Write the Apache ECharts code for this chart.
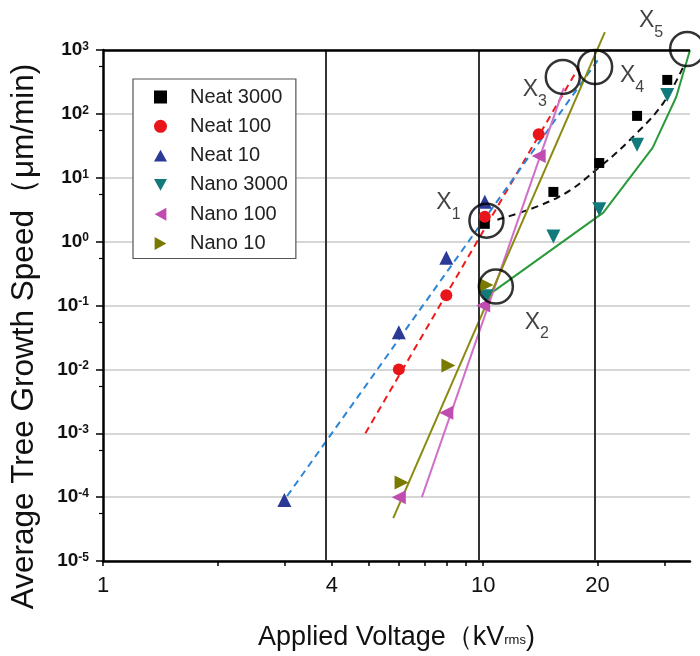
<!DOCTYPE html>
<html>
<head>
<meta charset="utf-8">
<script src="https://cdn.jsdelivr.net/npm/echarts@6/dist/echarts.min.js"></script>
<style>
html,body{margin:0;padding:0;background:#fff;}
#chart{width:700px;height:656px;}
</style>
</head>
<body>
<div id="chart"></div>
<script>
// measured points, x in kV, y in um/min
var seriesNames = ['Neat 3000', 'Neat 100', 'Neat 10', 'Nano 3000', 'Nano 100', 'Nano 10'];
var neat3000 = [[10.1, 1.9], [15.3, 6.0], [20.2, 17], [25.4, 93], [30.5, 340]];
var neat100 = [[6.0, 0.01], [8.0, 0.145], [10.1, 2.45], [14.0, 48]];
var neat10 = [[3.0, 9e-5], [6.0, 0.038], [8.0, 0.56], [10.1, 4.2]];
var nano3000 = [[10.2, 0.14], [15.3, 1.2], [20.2, 3.2], [25.4, 33], [30.5, 198]];
var nano100 = [[6.0, 1e-4], [8.0, 0.0021], [10.0, 0.1], [14.0, 22]];
var nano10 = [[6.1, 1.7e-4], [8.1, 0.0115], [10.2, 0.21]];

// fitted / guide lines
var neat3000Fit = [[10.9, 2.2], [15.7, 4.9], [20.3, 14.9], [25.4, 50.6], [29.8, 149], [33.6, 543]];
var neat100Fit = [[4.9, 0.001], [17.8, 525]];
var neat10Fit = [[3.05, 1.04e-4], [20.3, 780]];
var nano3000Fit = [[10.1, 0.133], [20.7, 2.84], [27.9, 29.4], [32.2, 184], [35.0, 1000]];
var nano100Fit = [[6.9, 1e-4], [16.3, 255]];
var nano10Fit = [[5.8, 4.7e-5], [20.9, 1900]];

// X1..X5 circles
var markNames = ['1', '2', '3', '4', '5'];
var markCenters = [[10.2, 2.13], [10.8, 0.198], [16.2, 379], [19.7, 542], [34.4, 1037]];
var markLabelOffsets = [[-38, -14], [41, 40], [-28, 17], [37, 13], [-36, -24]];

var voltageLines = [3.85, 9.75, 19.7];
var xTickValues = [1, 2, 3, 4, 5, 6, 7, 8, 9, 10, 20, 30];
var xLabelValues = [1, 4, 10, 20];

var font = 'Liberation Sans, Arial, sans-serif';
var dataSets = [neat3000, neat100, neat10, nano3000, nano100, nano10];
var colors = ['#000000', '#e8151b', '#2b3a96', '#127a7a', '#c04cb0', '#7a7a00'];
var symbols = [
  'rect',
  'circle',
  'path://M5,0L10,9L0,9Z',
  'path://M0,0L10,0L5,9Z',
  'path://M0,5L9,0L9,10Z',
  'path://M0,0L9,5L0,10Z'
];
var sizes = [10, 12, 14, 14, 14, 14];

var chart = echarts.init(document.getElementById('chart'));

var series = [];
seriesNames.forEach(function (name, i) {
  series.push({
    name: name,
    type: 'scatter',
    data: dataSets[i],
    symbol: symbols[i],
    symbolSize: sizes[i],
    itemStyle: { color: colors[i], opacity: 1 },
    z: 5
  });
});

function fitLine(data, color, dashed, smooth) {
  return {
    type: 'line',
    data: data,
    symbol: 'none',
    smooth: smooth ? 0.4 : false,
    clip: false,
    silent: true,
    lineStyle: { color: color, width: 2, type: dashed ? [7, 5] : 'solid' },
    z: 4
  };
}
series.push(fitLine(neat3000Fit, '#111111', true, true));
series.push(fitLine(neat100Fit, '#f01a1a', true));
series.push(fitLine(neat10Fit, '#2b85d6', true));
series.push(fitLine(nano3000Fit, '#2a9a3a', false));
series.push(fitLine(nano100Fit, '#d070c8', false));
series.push(fitLine(nano10Fit, '#8a8a10', false));

// grid frame lines
series.push({
  type: 'line',
  data: [],
  silent: true,
  markLine: {
    silent: true,
    symbol: 'none',
    label: { show: false },
    data: voltageLines.map(function (v) {
      return { xAxis: v, lineStyle: { color: '#333', width: 2, type: 'solid' } };
    }).concat([{ yAxis: 1000, lineStyle: { color: '#000', width: 2.5, type: 'solid' } }])
  },
  z: 3
});

series.push({
  type: 'scatter',
  silent: true,
  clip: false,
  symbol: 'circle',
  symbolSize: 34,
  itemStyle: { color: 'rgba(0,0,0,0)', borderColor: '#000', borderWidth: 2.5 },
  z: 6,
  data: markCenters.map(function (c, i) {
    return {
      value: c,
      label: {
        show: true,
        position: 'inside',
        offset: markLabelOffsets[i],
        formatter: '{x|X}{s|' + markNames[i] + '}',
        rich: {
          x: { fontFamily: font, fontSize: 23, color: '#111', padding: [0, 0, 8, 0] },
          s: { fontFamily: font, fontSize: 16, color: '#111', verticalAlign: 'bottom' }
        }
      }
    };
  })
});

chart.setOption({
  animation: false,
  backgroundColor: '#fff',
  grid: { left: 103, right: 10, top: 50, bottom: 94 },
  legend: {
    data: seriesNames,
    orient: 'vertical',
    left: 133,
    top: 79,
    width: 160,
    padding: [7, 8, 4, 21],
    itemWidth: 13,
    itemHeight: 13,
    itemGap: 7.3,
    borderColor: '#555',
    borderWidth: 1.2,
    backgroundColor: '#fff',
    textStyle: { fontFamily: font, fontSize: 20, color: '#222', lineHeight: 22, padding: [0, 0, 0, 18] }
  },
  xAxis: {
    type: 'log',
    logBase: 10,
    min: 1,
    max: 35,
    name: '{a|Applied Voltage（kV}{s|rms}{a|)}',
    nameLocation: 'middle',
    nameGap: 63,
    nameTextStyle: {
      rich: {
        a: { fontFamily: font, fontSize: 27, color: '#111' },
        s: { fontFamily: font, fontSize: 13, color: '#111', verticalAlign: 'bottom', padding: [0, 0, 4, 0] }
      }
    },
    axisLine: { lineStyle: { color: '#000', width: 2.5 } },
    axisTick: { customValues: xTickValues, length: 5, lineStyle: { color: '#000', width: 1.5 } },
    axisLabel: {
      customValues: xLabelValues,
      margin: 14,
      fontFamily: font,
      fontSize: 22,
      color: '#111'
    },
    splitLine: { show: false }
  },
  yAxis: {
    type: 'log',
    logBase: 10,
    min: 1e-5,
    max: 1e3,
    name: 'Average Tree Growth Speed（μm/min)',
    nameLocation: 'middle',
    nameGap: 63,
    nameTextStyle: { fontFamily: font, fontSize: 31.5, color: '#111', padding: [0, 62, 0, 0] },
    axisLine: { lineStyle: { color: '#000', width: 2.5 } },
    axisTick: { length: 7, lineStyle: { color: '#000', width: 1.5 } },
    minorTick: { show: true, splitNumber: 2, length: 4, lineStyle: { color: '#000', width: 1.2 } },
    axisLabel: {
      margin: 14,
      formatter: function (v) {
        return '{b|10}{s|' + Math.round(Math.log10(v)) + '}';
      },
      rich: {
        b: { fontFamily: font, fontSize: 19, fontWeight: 'bold', color: '#111' },
        s: { fontFamily: font, fontSize: 12, fontWeight: 'bold', color: '#111', verticalAlign: 'top' }
      }
    },
    splitLine: { lineStyle: { color: '#c8c8c8', width: 1.5 } }
  },
  series: series
});
</script>
</body>
</html>
